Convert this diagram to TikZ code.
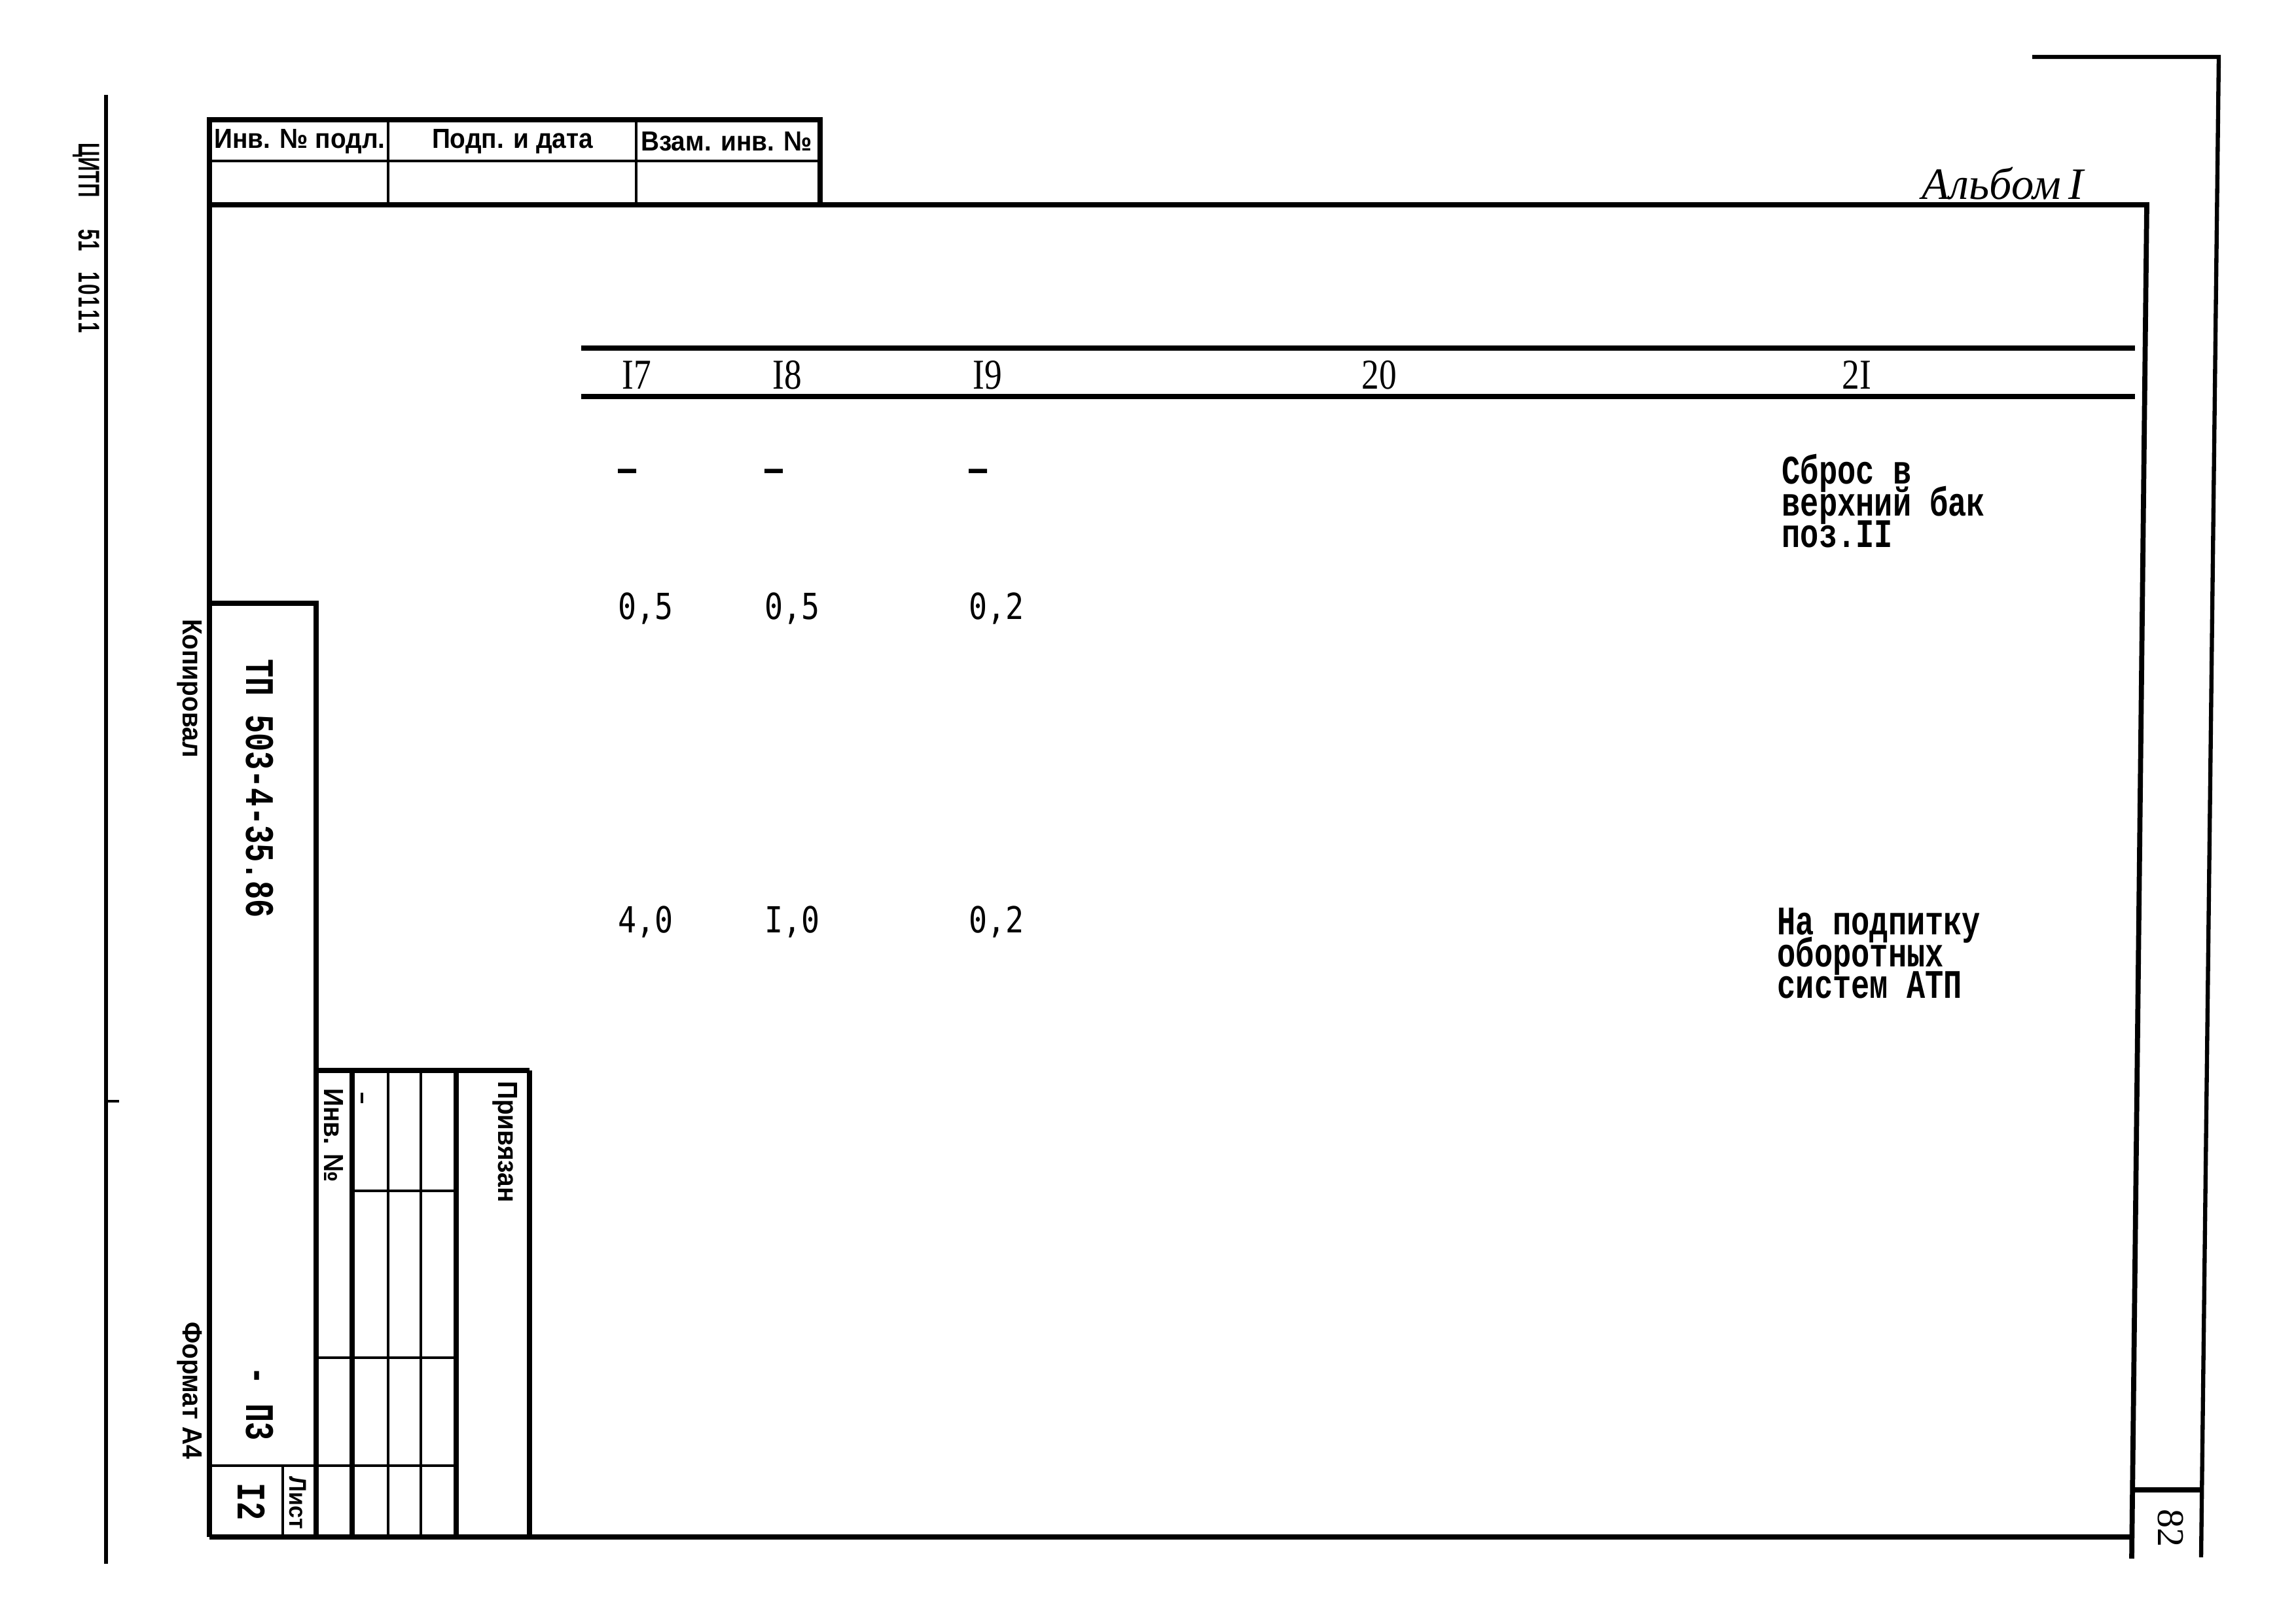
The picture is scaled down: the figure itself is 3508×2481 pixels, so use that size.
\documentclass[tikz,border=0pt]{standalone}
\usepackage{fontspec}
\setmainfont{Liberation Serif}
\newfontfamily\stampfont[FakeStretch=0.92]{Liberation Sans}
\newfontfamily\marginfont[FakeStretch=0.65]{Liberation Sans}
\newfontfamily\typefont[FakeStretch=0.76]{Liberation Mono}
\newfontfamily\digitfont[FakeStretch=0.85]{DejaVu Sans Mono}
\newfontfamily\headfont[FakeStretch=0.82]{Liberation Serif}
\newfontfamily\handfont{Liberation Serif}
\lineskiplimit=-30pt

\begin{document}
\begin{tikzpicture}[x=0.01cm, y=-0.01cm,
  frameline/.style={line width=2.2pt},
  thinline/.style={line width=1.2pt},
  stamp/.style={inner sep=0pt, font=\stampfont\bfseries\fontsize{12pt}{14pt}\selectfont},
  typed/.style={inner sep=0pt, font=\typefont\bfseries\fontsize{17.6pt}{13.7pt}\selectfont},
  value/.style={inner sep=0pt, anchor=base west, font=\digitfont\fontsize{15.6pt}{18pt}\selectfont},
  colhead/.style={inner sep=0pt, anchor=base, font=\headfont\fontsize{18.5pt}{20pt}\selectfont}]

% Sheet size
\useasboundingbox (0,0) rectangle (3508,2481);

% Left margin
\draw[line width=1.5pt] (162,145) -- (162,2390);
\draw[thinline] (162,1683) -- (182,1683);
\node[inner sep=0pt, rotate=-90, font=\marginfont\bfseries\fontsize{13pt}{14pt}\selectfont] (cipher) at (132,364)
	{ЦИТП\hspace{14pt}51\hspace{9pt}1\kern0.8pt0\kern0.8pt1\kern0.8pt1\kern0.8pt1};
\node[stamp, rotate=-90] (copied) at (290,1052) {Копировал};
\node[stamp, rotate=-90] (format) at (290,2125) {Формат А4};

% Top stub
\draw[frameline] (320,2349) -- (320,183) -- (1253,183) -- (1253,313);
\draw[thinline] (320,246) -- (1253,246);
\foreach \x in {593,972}
	\draw[thinline] (\x,183) -- (\x,313);
\node[stamp] (invpodl) at (458,216) {Инв. № подл.};
\node[stamp] (podp) at (783,216) {Подп. и дата};
\node[stamp] (vzam) at (1110,216) {Взам. инв. №};

% Frame and trim line
\draw[frameline] (320,313) -- (3280,313) -- (3257,2382);
\draw[frameline] (320,2349) -- (3257,2349);
\draw[line width=1.8pt] (3105,87) -- (3390,87) -- (3363,2380);
\draw[frameline] (3258,2277) -- (3364,2277);
\node[inner sep=0pt, rotate=-90, font=\rmfamily\fontsize{16.5pt}{18pt}\selectfont] (sheetno) at (3316,2335) {82};
\node[inner sep=0pt, font=\handfont\itshape\fontsize{19.5pt}{20pt}\selectfont] (album) at (3060,280) {Альбом\,I};

% Side strip
\draw[frameline] (320,922) -- (483,922) -- (483,2349);
\draw[thinline] (320,2240) -- (697,2240);
\draw[thinline] (432,2240) -- (432,2349);
\node[typed, rotate=-90] (code) at (397,1205) {ТП 503-4-35.86};
\node[typed, rotate=-90] (part) at (397,2145) {- П3};
\node[typed, rotate=-90] (sheet) at (384,2295) {I2};
\node[stamp, rotate=-90, font=\stampfont\bfseries\fontsize{10.5pt}{12pt}\selectfont] (sheetlbl) at (455,2297) {Лист};

% Lower stub
\draw[frameline] (483,1636) -- (809,1636);
\foreach \x in {538,697,809}
	\draw[frameline] (\x,1636) -- (\x,2349);
\foreach \x in {593,643}
	\draw[thinline] (\x,1636) -- (\x,2349);
\draw[thinline] (538,1820) -- (697,1820);
\draw[thinline] (483,2075) -- (697,2075);
\draw[thinline] (553,1670) -- (553,1686);
\node[stamp, rotate=-90] (invno) at (510,1735) {Инв. №};
\node[stamp, rotate=-90] (bound) at (772,1745) {Привязан};

% Table head
\draw[line width=2.4pt] (888,532) -- (3262,532);
\draw[line width=2.4pt] (888,606) -- (3262,606);
\foreach \lbl/\x [count=\i] in {I7/973, I8/1203, I9/1509, 20/2107, 2I/2837}
	\node[colhead] (col\i) at (\x,594) {\lbl};

% Values
\node[value, font=\digitfont\bfseries\fontsize{15.6pt}{18pt}\selectfont] (a1) at (944,735) {–};
\node[value, font=\digitfont\bfseries\fontsize{15.6pt}{18pt}\selectfont] (b1) at (1168,735) {–};
\node[value, font=\digitfont\bfseries\fontsize{15.6pt}{18pt}\selectfont] (c1) at (1480,735) {–};
\node[value] (a2) at (944,946) {0,5};
\node[value] (b2) at (1168,946) {0,5};
\node[value] (c2) at (1480,946) {0,2};
\node[value] (a3) at (944,1425) {4,0};
\node[value] (b3) at (1168,1425) {I,0};
\node[value] (c3) at (1480,1425) {0,2};

% Notes
\node[typed, align=left, anchor=north west] (drain) at (2722,690)
	{\rule{0pt}{14pt}Сброс в\\верхний бак\\поз.II};
\node[typed, align=left, anchor=north west] (feed) at (2715,1379)
	{\rule{0pt}{14pt}На подпитку\\оборотных\\систем АТП};

\end{tikzpicture}
\end{document}
